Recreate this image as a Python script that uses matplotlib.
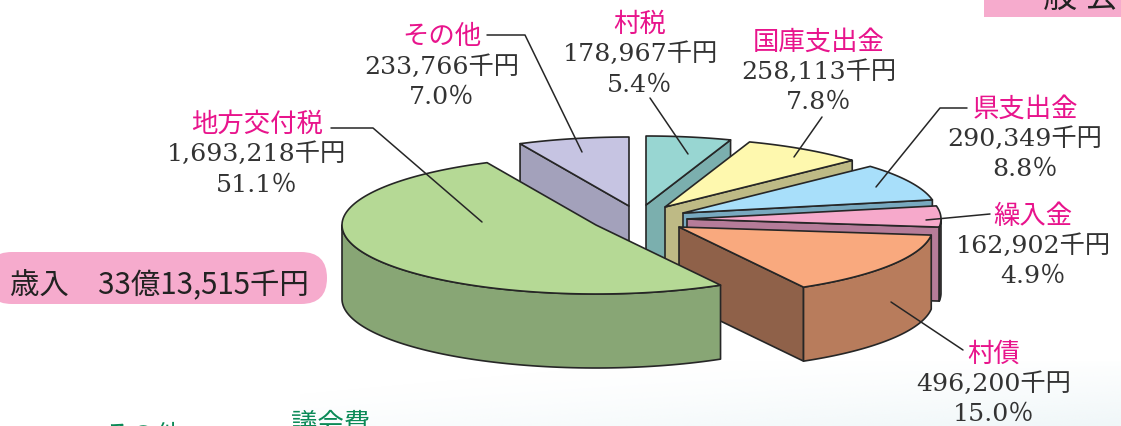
import numpy as np
import matplotlib
matplotlib.use("Agg")
import matplotlib.pyplot as plt
from matplotlib.patches import Polygon, FancyBboxPatch, Rectangle

# ---- data ----
categories = ["村税", "国庫支出金", "県支出金", "繰入金", "村債", "地方交付税", "その他"]
values = [178967, 258113, 290349, 162902, 496200, 1693218, 233766]
amount_labels = ["178,967千円", "258,113千円", "290,349千円", "162,902千円",
                 "496,200千円", "1,693,218千円", "233,766千円"]
pct_labels = ["5.4％", "7.8％", "8.8％", "4.9％", "15.0％", "51.1％", "7.0％"]
total_label = "歳入　33億13,515千円"

# ---- style / layout (pixel space) ----
W, H = 1121, 426
RX, RY, DEPTH = 254, 69, 74
apex = [(646, 205), (665, 207), (683, 213), (687, 219), (679, 227), (596, 225), (629, 206)]
top_col = ["#98D6D2", "#FEF8AE", "#A8DFFA", "#F6A9CB", "#F9A97E", "#B5D995", "#C6C4E2"]
arc_col = ["#7BAFAE", "#BEBA85", "#78A9BF", "#B57C99", "#B87C5C", "#88A675", "#A3A1BB"]
rad_col = ["#7BAFAE", "#BEBA85", "#78A9BF", "#B57C99", "#8F6149", "#88A675", "#A3A1BB"]
paint_order = [6, 0, 1, 2, 3, 4, 5]
label_pos = [(640, 24, 54, 85), (819, 42, 72, 102), (1025, 109, 139, 169), (1033, 216, 246, 276),
             (994, 354, 384, 414), (257, 124, 154, 185), (442, 37, 67, 97)]
leaders = [[(650, 98), (688, 154)],
           [(822, 117), (794, 157)],
           [(967, 108), (940, 108), (876, 187)],
           [(990, 214), (926, 220)],
           [(963, 350), (891, 302)],
           [(331, 128), (373, 128), (482, 222)],
           [(487, 35), (525, 35), (582, 152)]]
EDGE = "#262626"
MAGENTA = "#E8148C"
SERIF = ["DejaVu Serif", "Noto Sans CJK JP"]
SANS = ["Noto Sans CJK JP", "DejaVu Sans"]

fig = plt.figure(figsize=(W / 100, H / 100), dpi=100)
ax = fig.add_axes([0, 0, 1, 1])
ax.set_xlim(0, W)
ax.set_ylim(H, 0)
ax.axis("off")

# faint tint fading in towards the bottom right of the page
gy, gx = np.mgrid[0:1:60j, 0:1:200j]
tint = np.zeros((60, 200, 4))
tint[..., :3] = np.array([0xEC, 0xF5, 0xF7]) / 255
tint[..., 3] = np.clip((gx * 0.7 + gy * 0.6 - 0.3) * gy ** 0.5, 0, 1) * 0.8
ax.imshow(tint, extent=(300, W, H, 360), origin="upper", aspect="auto", zorder=0, interpolation="bilinear")
ax.set_xlim(0, W)
ax.set_ylim(H, 0)

fractions = np.array(values, dtype=float) / sum(values)
edges = np.concatenate([[0], np.cumsum(fractions)]) * 360.0


def pt(a, t, dz=0.0):
    r = np.radians(t)
    return np.column_stack([a[0] + RX * np.sin(r), a[1] - RY * np.cos(r) + dz])


def add_poly(points, color, z):
    ax.add_patch(Polygon(points, closed=True, fc=color, ec=EDGE, lw=1.2, joinstyle="round", zorder=z))


z = 2
for i in paint_order:
    a, t0, t1 = apex[i], edges[i], edges[i + 1]
    A = np.array(a, dtype=float)
    # straight cut walls that face the viewer
    for t, n, in ((t0, t0 - 90), (t1, t1 + 90)):
        if np.cos(np.radians(n)) < -1e-6:
            p = pt(a, t)[0]
            add_poly([A, p, p + [0, DEPTH], A + [0, DEPTH]], rad_col[i], z)
            z += 1
    # outer curved wall
    lo, hi = max(t0, 90), min(t1, 270)
    if hi > lo:
        ts = np.linspace(lo, hi, 80)
        add_poly(np.vstack([pt(a, ts), pt(a, ts[::-1], DEPTH)]), arc_col[i], z)
        z += 1
    # top face
    ts = np.linspace(t0, t1, 120)
    add_poly(np.vstack([A[None, :], pt(a, ts)]), top_col[i], z)
    z += 1

# leader lines
for seg in leaders:
    xs, ys = zip(*seg)
    ax.plot(xs, ys, color=EDGE, lw=1.1, zorder=100, solid_capstyle="round")

# labels
for name, amt, pct, (cx, y1, y2, y3) in zip(categories, amount_labels, pct_labels, label_pos):
    ax.text(cx, y1, name, color=MAGENTA, fontsize=19, family=SERIF, ha="center", va="center", zorder=101)
    ax.text(cx, y2, amt, color="#333333", fontsize=18.2, family=SERIF, ha="center", va="center", zorder=101)
    ax.text(cx, y3, pct, color="#333333", fontsize=18.2, family=SERIF, ha="center", va="center", zorder=101)

# total pill
ax.add_patch(FancyBboxPatch((-14 + 26, 252 + 26), 327 + 14 - 52, 0, boxstyle="round,pad=26,rounding_size=26",
                            fc="#F6ABCD", ec="none", zorder=1))
ax.text(10, 285, total_label, color="#222222", fontsize=21.2, family=SANS, weight="normal",
        ha="left", va="center", zorder=3)

# cropped fragments at the page edges
ax.add_patch(Rectangle((984, -2), W - 984 + 2, 19, fc="#F6ABCD", ec="none", zorder=1))
ax.text(1043, 7, "般 会", color="#222222", fontsize=24.5, family=SANS, ha="left", va="baseline",
        weight="normal", zorder=3)
ax.text(331, 424, "議会費", color="#0B8A57", fontsize=19, family=SERIF, ha="center", va="center", zorder=3)
ax.text(143, 437, "その他", color="#0B8A57", fontsize=19, family=SERIF, ha="center", va="center", zorder=3)

fig.savefig("out.png", dpi=100)
